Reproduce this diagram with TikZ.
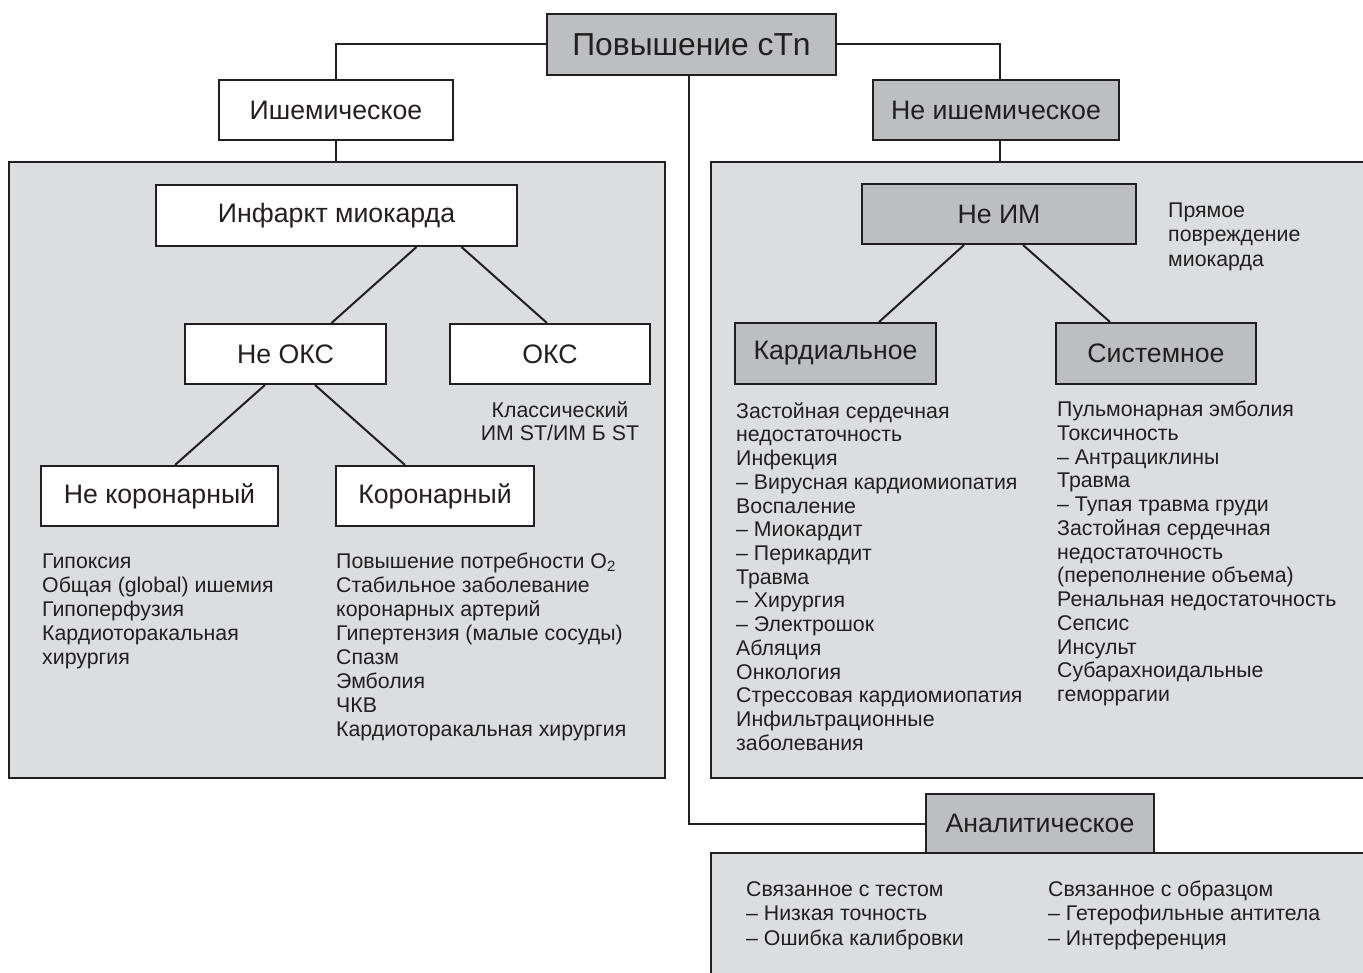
\documentclass[tikz,border=0pt]{standalone}
\usepackage{fontspec}
\setmainfont{Liberation Sans}
\definecolor{ink}{HTML}{231F20}
\definecolor{boxgray}{HTML}{BCBEC0}
\definecolor{panelgray}{HTML}{DCDDDF}
\tikzset{
  wire/.style={draw=ink, line width=2pt},
  lbl/.style={draw=ink, line width=2pt, inner sep=0pt, text=ink,
    font=\fontsize{26.7}{32}\selectfont, minimum height=60pt},
  whitebox/.style={lbl, fill=white},
  graybox/.style={lbl, fill=boxgray},
  panelnode/.style={fill=panelgray, inner sep=0pt},
  item/.style={anchor=base west, inner sep=0pt, text=ink,
    font=\fontsize{21.3}{24}\selectfont},
}
\begin{document}
\begin{tikzpicture}[x=1pt, y=-1pt]
\useasboundingbox (0,0) rectangle (1363,973);

% background panels
\node[panelnode, draw=ink, line width=2pt, minimum width=656pt, minimum height=616pt] (lpanel) at (337,470) {};
\node[panelnode, minimum width=652pt, minimum height=616pt] (rpanel) at (1037,470) {};
\draw[wire] (rpanel.north east) -- (rpanel.north west) -- (rpanel.south west) -- (rpanel.south east);
\node[panelnode, minimum width=652pt, minimum height=120pt] (bpanel) at (1037,913) {};
\draw[wire] (bpanel.north east) -- (bpanel.north west) -- (bpanel.south west);

% top level
\node[graybox, minimum width=289pt, minimum height=61pt, font=\fontsize{31.8}{38}\selectfont] (root) at (691.5,44.5) {Повышение cTn};
\node[whitebox, minimum width=234pt] (isch) at (336,110) {Ишемическое};
\node[graybox, minimum width=246pt] (nonisch) at (996,110) {Не ишемическое};
\node[graybox, minimum width=228pt, minimum height=59pt] (anal) at (1040,823.5) {Аналитическое};

\draw[wire] (root.west) -| (isch.north);
\draw[wire] (root.east) -| ([xshift=4pt]nonisch.north);
\draw[wire] (isch.south) -- (isch.south |- lpanel.north);
\draw[wire] ([xshift=4pt]nonisch.south) -- ([xshift=4pt]nonisch.south |- rpanel.north);
\draw[wire] ([xshift=-2.5pt]root.south) |- (anal.west);

% ischemic branch
\node[whitebox, minimum width=361pt, minimum height=61pt] (mi) at (336.5,215.5) {Инфаркт миокарда};
\node[whitebox, minimum width=201pt] (nacs) at (285.5,354) {Не ОКС};
\node[whitebox, minimum width=200pt] (acs) at (550,354) {ОКС};
\node[whitebox, minimum width=237pt] (noncor) at (159.5,496) {Не коронарный};
\node[whitebox, minimum width=198pt] (cor) at (435,496) {Коронарный};

\draw[wire] ([xshift=80pt]mi.south) -- ([xshift=46pt]nacs.north);
\draw[wire] ([xshift=125pt]mi.south) -- ([xshift=-3pt]acs.north);
\draw[wire] ([xshift=-20.5pt]nacs.south) -- ([xshift=15.5pt]noncor.north);
\draw[wire] ([xshift=29.5pt]nacs.south) -- ([xshift=-30pt]cor.north);

\foreach [count=\i] \t in {Классический, ИМ ST/ИМ Б ST}
  \node[item, anchor=base] (acsnote\i) at (560,{417.3+22.7*(\i-1)}) {\t};

\foreach [count=\i] \t in {Гипоксия, Общая (global) ишемия, Гипоперфузия,
    Кардиоторакальная, хирургия}
  \node[item] (noncor\i) at (42,{568+24*(\i-1)}) {\t};

\foreach [count=\i] \t in {Повышение потребности O\textsubscript{2},
    Стабильное заболевание, коронарных артерий, Гипертензия (малые сосуды),
    Спазм, Эмболия, ЧКВ, Кардиоторакальная хирургия}
  \node[item] (cor\i) at (336,{568+24.1*(\i-1)}) {\t};

% non-ischemic branch
\node[graybox, minimum width=274pt] (nonmi) at (999,214) {Не ИМ};
\node[graybox, minimum width=201pt, minimum height=61pt] (card) at (835.5,353.5) {Кардиальное};
\node[graybox, minimum width=200pt, minimum height=61pt] (sys) at (1156,353.5) {Системное};

\draw[wire] ([xshift=-35pt]nonmi.south) -- ([xshift=43.5pt]card.north);
\draw[wire] ([xshift=24pt]nonmi.south) -- ([xshift=-46pt]sys.north);

\foreach [count=\i] \t in {Прямое, повреждение, миокарда}
  \node[item] (direct\i) at (1168,{217.7+24.2*(\i-1)}) {\t};

\foreach [count=\i] \t in {Застойная сердечная, недостаточность, Инфекция,
    – Вирусная кардиомиопатия, Воспаление, – Миокардит, – Перикардит,
    Травма, – Хирургия, – Электрошок, Абляция, Онкология,
    Стрессовая кардиомиопатия, Инфильтрационные, заболевания}
  \node[item] (card\i) at (736,{418.3+23.7*(\i-1)}) {\t};

\foreach [count=\i] \t in {Пульмонарная эмболия, Токсичность, – Антрациклины,
    Травма, – Тупая травма груди, Застойная сердечная, недостаточность,
    (переполнение объема), Ренальная недостаточность, Сепсис, Инсульт,
    Субарахноидальные, геморрагии}
  \node[item] (sys\i) at (1057,{416.7+23.75*(\i-1)}) {\t};

% analytical branch
\foreach [count=\i] \t in {Связанное с тестом, – Низкая точность, – Ошибка калибровки}
  \node[item] (test\i) at (746,{896.7+24.2*(\i-1)}) {\t};
\foreach [count=\i] \t in {Связанное с образцом, – Гетерофильные антитела, – Интерференция}
  \node[item] (sample\i) at (1048,{896.7+24.2*(\i-1)}) {\t};
\end{tikzpicture}
\end{document}
